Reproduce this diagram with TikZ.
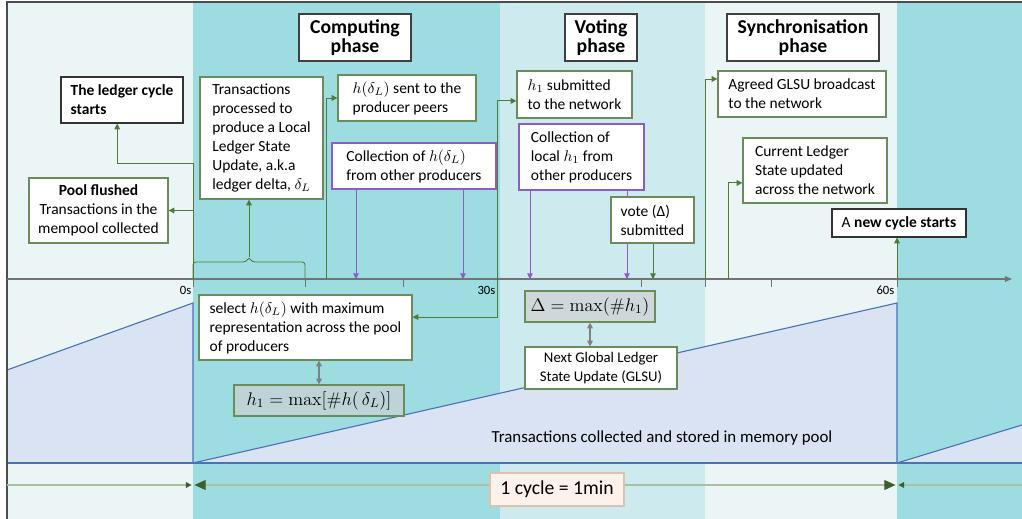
\documentclass[tikz,border=0pt]{standalone}
\usepackage{fix-cm}
\usepackage[no-math]{fontspec}
\setmainfont{Carlito}
\usetikzlibrary{arrows.meta}

% Colours of the bands, the memory pool and the boxes
\definecolor{bandlight}{HTML}{EBF5F6}
\definecolor{bandteal}{HTML}{9DDCE0}
\definecolor{bandmid}{HTML}{CDEBEE}
\definecolor{poolfill}{HTML}{DAE3F3}
\definecolor{poolline}{HTML}{4A72B8}
\definecolor{boxgreen}{HTML}{6A8C5A}
\definecolor{arrowgreen}{HTML}{4F7A3A}
\definecolor{darkgreen}{HTML}{3D5F2A}
\definecolor{collpurple}{HTML}{8C5CC8}
\definecolor{graybox}{HTML}{CFCFD2}
\definecolor{cyclefill}{HTML}{FDF1EB}
\definecolor{cycleedge}{HTML}{D9C3AE}
\definecolor{cycleline}{HTML}{A9C0A2}

\begin{document}
\begin{tikzpicture}[x=0.025cm, y=-0.025cm,
    phasebox/.style={draw=black!75, line width=1pt, fill=white, align=center, inner sep=0pt,
                     font=\fontsize{14}{13.5}\selectfont\bfseries},
    gbox/.style={draw=boxgreen, line width=0.9pt, fill=white, align=left, inner sep=0pt,
                 font=\fontsize{11}{13.5}\selectfont},
    pbox/.style={gbox, draw=collpurple},
    kbox/.style={gbox, draw=black!80},
    mbox/.style={draw=boxgreen, line width=0.9pt, fill=graybox, fill opacity=0.67, text opacity=1,
                 inner sep=0pt, font=\fontsize{13}{15}\selectfont},
    boxsize/.style 2 args={minimum width=#1cm, minimum height=#2cm},
    conn/.style={draw=arrowgreen, line width=0.6pt, -{Triangle[length=4pt,width=4pt]}},
    pconn/.style={draw=collpurple, line width=0.6pt, -{Triangle[length=4pt,width=4pt]}},
    gconn/.style={draw=gray, line width=0.8pt, {Triangle[length=4pt,width=4pt]}-{Triangle[length=4pt,width=4pt]}},
    axisline/.style={draw=black!55, line width=0.7pt},
    cycline/.style={draw=cycleline, line width=0.8pt},
    ticklabel/.style={font=\fontsize{9}{10}\selectfont, inner sep=1pt},
  ]

  \def\axy{279}   % y of the time axis
  \def\cy{485}    % y of the cycle line

  \useasboundingbox (0,0) rectangle (1022,519);

  % Phase bands
  \fill[bandlight] (7,2) rectangle (193,519);
  \fill[bandteal] (193,2) rectangle (500,519);
  \fill[bandmid] (500,2) rectangle (705,519);
  \fill[bandlight] (705,2) rectangle (897,519);
  \fill[bandteal] (897,2) rectangle (1022,519);

  % Memory pool sawtooth
  \fill[poolfill] (7,463) -- (7,370) -- (193,303) -- (193,463) -- (897,303) -- (897,463)
                  -- (1022,425) -- (1022,463) -- cycle;
  \draw[poolline, line width=0.8pt] (7,370) -- (193,303) -- (193,463) -- (897,303) -- (897,463) -- (1022,425);
  \draw[poolline, line width=0.8pt] (7,463) -- (1022,463);
  \node[font=\fontsize{12}{14}\selectfont] (pooltxt) at (662,438) {Transactions collected and stored in memory pool};

  % Frame
  \draw[black!70, line width=1.2pt] (7,519) -- (7,2) -- (1022,2);

  % Time axis with ticks
  \draw[axisline, -{Triangle[length=5pt,width=4pt]}, line width=0.8pt] (7,\axy) -- (1012,\axy);
  \foreach \tx in {193,305,403,497,641,705,771,897}
    \draw[axisline] (\tx,\axy) -- (\tx,287);
  \node[ticklabel, anchor=east] (l0) at (193,290) {0s};
  \node[ticklabel, anchor=east] (l30) at (497,290) {30s};
  \node[ticklabel, anchor=east] (l60) at (896,290) {60s};

  % Points on the axis
  \coordinate (t0) at (193,\axy);
  \coordinate (a1) at (326,\axy);
  \coordinate (p1) at (356,\axy);
  \coordinate (p2) at (463,\axy);
  \coordinate (t30) at (497,\axy);
  \coordinate (p3) at (530,\axy);
  \coordinate (p4) at (627,\axy);
  \coordinate (v1) at (653,\axy);
  \coordinate (a2) at (705,\axy);
  \coordinate (a3) at (728,\axy);
  \coordinate (t60) at (897,\axy);

  % Phase titles
  \node[phasebox, boxsize={2.8}{1.175}] (comp) at (355,37.5) {Computing\\phase};
  \node[phasebox, boxsize={1.8}{1.175}] (votep) at (601,37.5) {Voting\\phase};
  \node[phasebox, boxsize={3.8}{1.175}] (syncp) at (803,37.5) {Synchronisation\\phase};

  % Boxes above the axis
  \node[kbox, boxsize={3.05}{1.15}] (start) at (122,100) {\textbf{The ledger cycle}\\\textbf{starts}};
  \node[gbox, boxsize={3.475}{1.625}, align=center] (pool) at (98.5,210.5)
    {\textbf{Pool flushed}\\Transactions in the\\mempool collected};
  \node[gbox, boxsize={3.075}{3.05}] (proc) at (261.5,138)
    {Transactions\\processed to\\produce a Local\\Ledger State\\Update, a.k.a\\ledger delta, $\delta_L$};
  \node[gbox, boxsize={3.45}{1.15}] (sent) at (407,98) {$h(\delta_L)$ sent to the\\producer peers};
  \node[pbox, boxsize={4.1}{1.15}] (colh) at (414,166) {Collection of $h(\delta_L)$\\from other producers};
  \node[gbox, boxsize={2.875}{1.175}] (sub) at (574.5,94.5) {$h_1$ submitted\\to the network};
  \node[pbox, boxsize={3.125}{1.65}] (colloc) at (581.5,157) {Collection of\\local $h_1$ from\\other producers};
  \node[gbox, boxsize={4.2}{1.15}] (agreed) at (802,94) {Agreed GLSU broadcast\\to the network};
  \node[gbox, boxsize={3.6}{1.625}] (curr) at (815,170.5) {Current Ledger\\State updated\\across the network};
  \node[kbox, boxsize={3.35}{0.7}] (newc) at (899,223) {A \textbf{new cycle starts}};

  % Boxes below the axis
  \node[gbox, boxsize={5.325}{1.625}] (sel) at (305.5,327.5)
    {select $h(\delta_L)$ with maximum\\representation across the pool\\of producers};
  \node[mbox, boxsize={4.25}{0.775}] (hmax) at (319,400.5) {$h_1 = \max[\#h(\,\delta_L)]$};
  \node[mbox, boxsize={3.25}{0.775}] (dmax) at (590,306.5) {$\Delta = \max(\#h_1)$};
  \node[gbox, boxsize={3.8}{1.05}, align=center, font=\fontsize{10.5}{13.5}\selectfont] (glsu) at (601,368)
    {Next Global Ledger\\State Update (GLSU)};

  % Connectors at the start of the cycle
  \draw[conn] (t0) |- (pool.east);
  \draw[conn] (t0) -- (193,163) -| ([xshift=-0.12cm]start.south);
  \draw[arrowgreen, line width=0.6pt, rounded corners=2pt]
    (193,\axy) -- (193,262) -- (246,262) -- (249,257) -- (252,262) -- (305,262) -- (305,\axy);
  \coordinate (brtip) at (249,257);
  \draw[conn] (brtip) -- (proc.south -| brtip);

  % Computing phase
  \draw[conn] (a1) |- (sent.west);
  \draw[pconn] (colh.south -| p1) -- (p1);
  \draw[pconn] (colh.south -| p2) -- (p2);
  \draw[conn] (t30) |- ([yshift=-0.16cm]sub.west);
  \draw[conn] (t30) |- ([yshift=0.26cm]sel.east);
  \draw[gconn] (sel.south -| hmax.north) -- (hmax.north);

  % Voting phase
  \draw[pconn] (colloc.south -| p3) -- (p3);
  \draw[pconn] (colloc.south -| p4) -- (p4);
  \node[gbox, boxsize={2.075}{1.15}] (vote) at (652.5,220) {vote (Δ)\\submitted};
  \draw[conn] (vote.south -| v1) -- (v1);
  \draw[gconn] (dmax.south) -- (glsu.north -| dmax.south);

  % Synchronisation phase
  \draw[conn] (a2) |- ([yshift=0.375cm]agreed.west);
  \draw[conn] (a3) |- ([yshift=-0.31cm]curr.west);
  \draw[conn] (t60) -- (newc.south -| t60);

  % One cycle
  \coordinate (c0) at (193,\cy);
  \coordinate (c60) at (897,\cy);
  \draw[cycline, -{Triangle[length=4pt,width=4pt,color=darkgreen]}] (7,\cy) -- ([xshift=-1pt]c0);
  \draw[cycline, -{Triangle[length=4pt,width=4pt,color=darkgreen]}] (1022,\cy) -- ([xshift=1pt]c60);
  \draw[cycline, {Triangle[length=8pt,width=7pt,color=darkgreen]}-{Triangle[length=8pt,width=7pt,color=darkgreen]}]
    ([xshift=1pt]c0) -- ([xshift=-1pt]c60);
  \node[draw=cycleedge, line width=0.9pt, fill=cyclefill, inner sep=0pt, boxsize={3.35}{0.825},
        font=\fontsize{14}{16}\selectfont] (cyc) at (557,489.5) {1 cycle = 1min};

\end{tikzpicture}
\end{document}
